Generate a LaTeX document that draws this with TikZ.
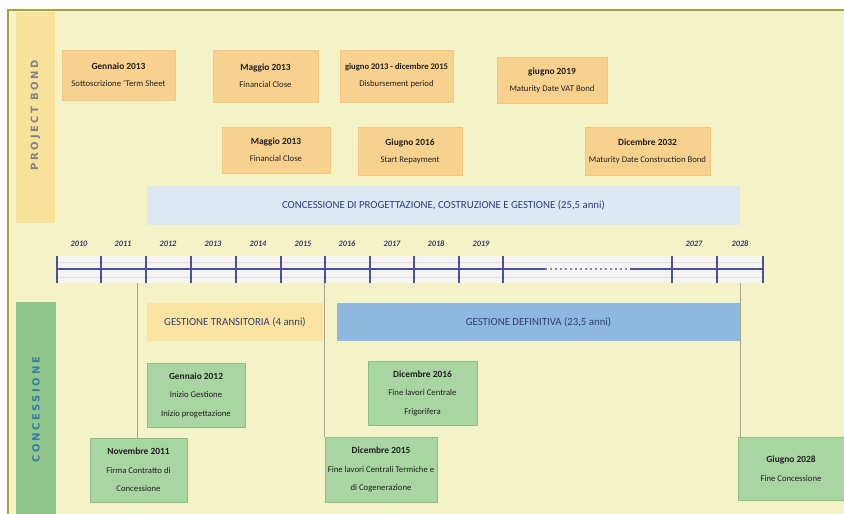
\documentclass[tikz,border=0pt]{standalone}
\usepackage{fontspec}
\setmainfont{Carlito}
\newfontfamily\stripfont{DejaVu Sans}[LetterSpace=26]
\definecolor{bgY}{HTML}{F4F3C8}
\definecolor{frameC}{HTML}{A9A23A}
\definecolor{stripO}{HTML}{F8E29A}
\definecolor{stripG}{HTML}{8FC78C}
\definecolor{boxO}{HTML}{F9D18E}
\definecolor{boxOd}{HTML}{F5C67E}
\definecolor{boxG}{HTML}{A9D5A2}
\definecolor{boxGd}{HTML}{8CBF86}
\definecolor{bandB}{HTML}{DCE8F3}
\definecolor{bandT}{HTML}{FBE4A2}
\definecolor{bandD}{HTML}{8FB8E1}
\definecolor{navyT}{HTML}{2F3C78}
\definecolor{axisC}{HTML}{4B4F9C}
\definecolor{yearC}{HTML}{3A3B5E}
\definecolor{linkC}{HTML}{A6A58C}
\definecolor{axbg}{HTML}{F5F4F3}
\definecolor{pbT}{HTML}{7E8090}
\definecolor{concT}{HTML}{3A78A8}
\begin{document}
\begin{tikzpicture}[x=1pt,y=-1pt,
  obox/.style={fill=boxO, draw=boxOd, line width=1pt, align=center, inner sep=0pt,
    font=\fontsize{8.7}{17}\selectfont, text=black!88},
  gbox/.style={fill=boxG, draw=boxGd, line width=1pt, align=center, inner sep=0pt,
    font=\fontsize{8.7}{18.5}\selectfont, text=black!88},
  band/.style={inner sep=0pt, font=\fontsize{10.8}{12}\selectfont, text=navyT},
  yearlbl/.style={font=\fontsize{8.3}{10}\itshape\bfseries, text=yearC, inner sep=0pt},
  tickln/.style={draw=axisC, line width=1.3pt},
  linkln/.style={draw=linkC, line width=0.6pt},
  striptxt/.style={rotate=90, font=\stripfont\bfseries\fontsize{10}{11}\selectfont, inner sep=0pt}
]
\newcommand{\bt}[1]{{\bfseries\fontsize{9.4}{17}\selectfont #1}}
\newcommand{\btsmall}[1]{{\bfseries\fontsize{8.6}{17}\selectfont #1}}
\useasboundingbox (0,0) rectangle (844,514);
\fill[white] (0,0) rectangle (844,514);
\fill[bgY] (8,10) rectangle (844,514);
\draw[frameC, line width=1.2pt] (8,514) -- (8,10) -- (844,10);

% side strips
\fill[stripO] (16,12) rectangle (55,223);
\fill[stripG] (16,302) rectangle (56,514);
\node[striptxt, text=pbT] (pb) at (35.5,115) {PROJECT BOND};
\node[striptxt, text=concT] (conc) at (36,410) {CONCESSIONE};

% project bond boxes
\node[obox, minimum width=113pt, minimum height=50pt] (b1) at (118.5,75)
  {\bt{Gennaio 2013}\\Sottoscrizione ‘Term Sheet};
\node[obox, minimum width=105pt, minimum height=52pt] (b2) at (265.5,76)
  {\bt{Maggio 2013}\\Financial Close};
\node[obox, minimum width=113pt, minimum height=52pt] (b3) at (396.5,76)
  {\btsmall{giugno 2013 - dicembre 2015}\\Disbursement period};
\node[obox, minimum width=110pt, minimum height=46pt] (b4) at (552,80)
  {\bt{giugno 2019}\\Maturity Date VAT Bond};
\node[obox, minimum width=108pt, minimum height=46pt] (b5) at (276,150)
  {\bt{Maggio 2013}\\Financial Close};
\node[obox, minimum width=104pt, minimum height=48pt] (b6) at (410,151)
  {\bt{Giugno 2016}\\Start Repayment};
\node[obox, minimum width=125pt, minimum height=48pt] (b7) at (647.5,151)
  {\bt{Dicembre 2032}\\Maturity Date Construction Bond};

% concession band
\node[band, fill=bandB, minimum width=593pt, minimum height=39pt] (cband) at (443.5,205.5)
  {CONCESSIONE DI PROGETTAZIONE, COSTRUZIONE E GESTIONE (25,5 anni)};

% axis
\fill[axbg] (57,256) rectangle (763,283);
\draw[black!12, line width=0.5pt] (57,262) -- (763,262) (57,277) -- (763,277);
\coordinate (a0) at (57,269);
\coordinate (a1) at (763,269);
\draw[axisC, line width=1.8pt] (a0) -- (545,269);
\draw[axisC!70, line width=1.2pt, dash pattern=on 2pt off 3pt] (545,269) -- (630,269);
\draw[axisC, line width=1.8pt] (630,269) -- (a1);
\foreach \x in {57,101,146,191,236,281,325,370,414,459,503,672,717,763}
  \draw[tickln] (\x,256) -- (\x,283);
\node[yearlbl] (y2010) at (79,244) {2010};
\node[yearlbl] (y2011) at (123,244) {2011};
\node[yearlbl] (y2012) at (168,244) {2012};
\node[yearlbl] (y2013) at (213,244) {2013};
\node[yearlbl] (y2014) at (258,244) {2014};
\node[yearlbl] (y2015) at (303,244) {2015};
\node[yearlbl] (y2016) at (347,244) {2016};
\node[yearlbl] (y2017) at (392,244) {2017};
\node[yearlbl] (y2018) at (436,244) {2018};
\node[yearlbl] (y2019) at (481,244) {2019};
\node[yearlbl] (y2027) at (694,244) {2027};
\node[yearlbl] (y2028) at (740,244) {2028};

% gestione bands
\node[band, fill=bandT, minimum width=176pt, minimum height=38pt] (gt) at (235,322)
  {GESTIONE TRANSITORIA (4 anni)};
\node[band, fill=bandD, minimum width=403pt, minimum height=38pt] (gd) at (538.5,322)
  {GESTIONE DEFINITIVA (23,5 anni)};

% concession boxes
\node[gbox, minimum width=97pt, minimum height=64pt] (g1) at (138.5,470)
  {\bt{Novembre 2011}\\Firma Contratto di\\Concessione};
\node[gbox, minimum width=98pt, minimum height=64pt] (g2) at (196,395)
  {\bt{Gennaio 2012}\\Inizio Gestione\\Inizio progettazione};
\node[gbox, minimum width=112pt, minimum height=65pt] (g3) at (381,469.5)
  {\bt{Dicembre 2015}\\Fine lavori Centrali Termiche e\\di Cogenerazione};
\node[gbox, minimum width=109pt, minimum height=64pt] (g4) at (422.5,393)
  {\bt{Dicembre 2016}\\Fine lavori Centrale\\Frigorifera};
\node[gbox, minimum width=106pt, minimum height=63pt] (g5) at (791,468.5)
  {\bt{Giugno 2028}\\Fine Concessione};

% connectors
\coordinate (t1) at (137,283);
\coordinate (t3) at (324,283);
\coordinate (t5) at (740,283);
\draw[linkln] (t1) -- (t1 |- g1.north);
\draw[linkln] (t3) -- (t3 |- g3.north);
\draw[linkln] (t5) -- (t5 |- g5.north);
\end{tikzpicture}
\end{document}
